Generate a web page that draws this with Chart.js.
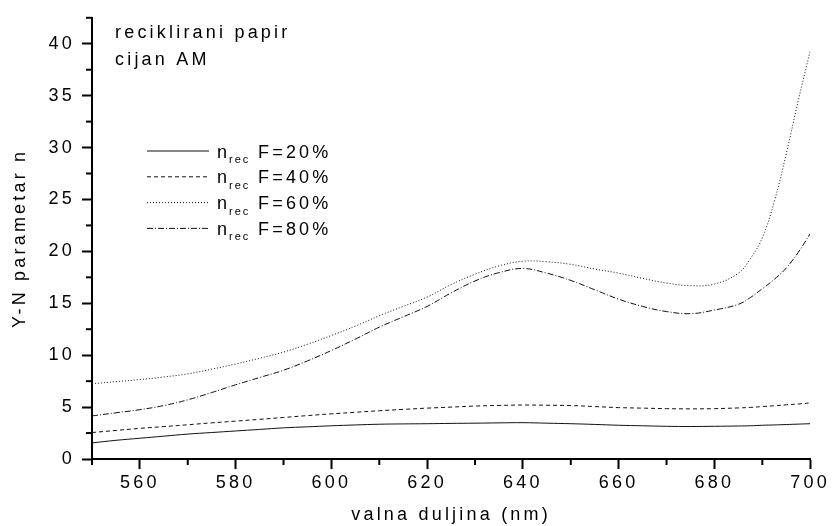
<!DOCTYPE html>
<html>
<head>
<meta charset="utf-8">
<script src="https://cdn.jsdelivr.net/npm/chart.js@4/dist/chart.umd.min.js"></script>
<style>
  html, body { margin: 0; padding: 0; background: #fff; }
  #wrap { width: 833px; height: 526px; }
</style>
</head>
<body>
<div id="wrap"><canvas id="ynChart" width="833" height="526"></canvas></div>
<script>
// data
var lambda = [550, 555, 560, 565, 570, 575, 580, 585, 590, 595, 600, 605, 610, 615, 620, 625,
              630, 635, 640, 645, 650, 655, 660, 665, 670, 675, 680, 685, 687.5, 690, 692.5, 695, 697.5, 700];

var f20 = [1.55, 1.8, 2.0, 2.2, 2.4, 2.55, 2.7, 2.85, 3.0, 3.1, 3.2, 3.28, 3.35, 3.38, 3.4, 3.43,
           3.45, 3.48, 3.5, 3.45, 3.4, 3.33, 3.25, 3.2, 3.15, 3.13, 3.15, 3.18, 3.2, 3.25, 3.28, 3.32, 3.36, 3.4];
var f40 = [2.55, 2.75, 2.95, 3.12, 3.3, 3.48, 3.65, 3.82, 4.0, 4.18, 4.35, 4.5, 4.65, 4.78, 4.9, 5.0,
           5.1, 5.16, 5.2, 5.18, 5.15, 5.05, 4.95, 4.9, 4.85, 4.83, 4.85, 4.92, 4.97, 5.05, 5.13, 5.22, 5.3, 5.4];
var f60 = [7.25, 7.45, 7.65, 7.9, 8.2, 8.65, 9.15, 9.7, 10.3, 11.05, 11.9, 12.8, 13.8, 14.7, 15.6, 16.8,
           17.8, 18.6, 19.05, 19.0, 18.75, 18.3, 17.9, 17.4, 16.95, 16.7, 16.85, 17.9, 19.3, 21.3, 24.8, 29.4, 34.5, 39.3];
var f80 = [4.15, 4.45, 4.75, 5.15, 5.7, 6.4, 7.15, 7.85, 8.55, 9.45, 10.45, 11.55, 12.7, 13.7, 14.7, 16.0,
           17.15, 17.95, 18.35, 17.9, 17.2, 16.3, 15.4, 14.7, 14.2, 14.0, 14.35, 14.9, 15.55, 16.4, 17.3, 18.4, 19.9, 21.7];

var seriesNames = ['F=20%', 'F=40%', 'F=60%', 'F=80%'];
var xTicks = [560, 580, 600, 620, 640, 660, 680, 700];
var yTicks = [0, 5, 10, 15, 20, 25, 30, 35, 40];

var FONT = 'Liberation Sans, Arial, sans-serif';
var SPACING = '3.2px';

function pts(arr) {
  return arr.map(function (v, i) { return { x: lambda[i], y: v }; });
}

var dashes = [[], [4, 3], [1, 2], [6, 2, 1, 2]];
var values = [f20, f40, f60, f80];

var datasets = values.map(function (arr, i) {
  return {
    label: seriesNames[i],
    data: pts(arr),
    borderColor: '#111',
    borderWidth: 1,
    borderDash: dashes[i],
    pointRadius: 0,
    fill: false,
    tension: 0.4
  };
});

// letter spacing like the original plot
var spacingPlugin = {
  id: 'spacing',
  beforeUpdate: function (chart) { chart.ctx.letterSpacing = SPACING; },
  beforeDraw: function (chart) { chart.ctx.letterSpacing = SPACING; }
};

// minor ticks, title text and legend with subscript
var extrasPlugin = {
  id: 'extras',
  afterDraw: function (chart) {
    var ctx = chart.ctx;
    var xs = chart.scales.x, ys = chart.scales.y;
    ctx.save();
    ctx.strokeStyle = '#000';
    ctx.lineWidth = 2;
    ctx.setLineDash([]);
    // minor ticks
    for (var v = 2.5; v <= 42.5; v += 5) {
      var py = ys.getPixelForValue(v);
      ctx.beginPath(); ctx.moveTo(xs.left - 6, py); ctx.lineTo(xs.left, py); ctx.stroke();
    }
    for (var w = 550; w <= 690; w += 20) {
      var px = xs.getPixelForValue(w);
      ctx.beginPath(); ctx.moveTo(px, ys.bottom); ctx.lineTo(px, ys.bottom + 6); ctx.stroke();
    }

    ctx.letterSpacing = SPACING;
    ctx.fillStyle = '#000';
    ctx.textAlign = 'left';
    ctx.textBaseline = 'alphabetic';
    ctx.font = '18px ' + FONT;
    ctx.fillText('reciklirani papir', 115, 38);
    ctx.fillText('cijan AM', 115, 65);

    // legend
    for (var i = 0; i < datasets.length; i++) {
      var ly = 151 + i * 25.8;
      ctx.lineWidth = 1;
      ctx.strokeStyle = '#111';
      ctx.setLineDash(datasets[i].borderDash);
      ctx.beginPath(); ctx.moveTo(147, ly); ctx.lineTo(209, ly); ctx.stroke();
      ctx.setLineDash([]);
      ctx.letterSpacing = SPACING;
      ctx.font = '18px ' + FONT;
      ctx.fillText('n', 217, ly + 6.5);
      ctx.letterSpacing = '2px';
      ctx.font = '11px ' + FONT;
      ctx.fillText('rec', 229, ly + 12);
      ctx.letterSpacing = SPACING;
      ctx.font = '18px ' + FONT;
      ctx.fillText(seriesNames[i], 258, ly + 6.5);
    }
    ctx.restore();
  }
};

var ctx = document.getElementById('ynChart').getContext('2d');
var ynChart = new Chart(ctx, {
  type: 'line',
  data: { datasets: datasets },
  plugins: [spacingPlugin, extrasPlugin],
  options: {
    responsive: false,
    animation: false,
    layout: { padding: { top: 15, right: 19, left: 0, bottom: 0 } },
    plugins: {
      legend: { display: false },
      tooltip: { enabled: false }
    },
    scales: {
      x: {
        type: 'linear',
        min: 550,
        max: 700,
        afterFit: function (scale) { scale.height = 67; },
        border: { display: true, color: '#000', width: 2 },
        grid: {
          drawOnChartArea: false,
          drawTicks: true,
          tickLength: 10,
          tickWidth: 2,
          tickColor: function (c) {
            return xTicks.indexOf(c.tick.value) >= 0 ? '#000' : 'rgba(0,0,0,0)';
          }
        },
        ticks: {
          stepSize: 10,
          autoSkip: false,
          maxRotation: 0,
          padding: 3,
          color: '#000',
          font: { family: FONT, size: 18 },
          callback: function (v) { return xTicks.indexOf(v) >= 0 ? String(v) : ''; }
        },
        title: {
          display: true,
          text: 'valna duljina (nm)',
          color: '#000',
          font: { family: FONT, size: 18 },
          padding: { top: 0, bottom: 0 }
        }
      },
      y: {
        min: 0,
        max: 42.5,
        afterFit: function (scale) { scale.width = 92; },
        border: { display: true, color: '#000', width: 2 },
        grid: {
          drawOnChartArea: false,
          drawTicks: true,
          tickLength: 10,
          tickWidth: 2,
          tickColor: function (c) {
            return yTicks.indexOf(c.tick.value) >= 0 ? '#000' : 'rgba(0,0,0,0)';
          }
        },
        ticks: {
          stepSize: 2.5,
          autoSkip: false,
          padding: 7,
          color: '#000',
          font: { family: FONT, size: 18 },
          callback: function (v) { return yTicks.indexOf(v) >= 0 ? String(v) : ''; }
        },
        title: {
          display: true,
          text: 'Y-N parametar n',
          color: '#000',
          font: { family: FONT, size: 18 },
          padding: { top: 9, bottom: 0 }
        }
      }
    }
  }
});
</script>
</body>
</html>
